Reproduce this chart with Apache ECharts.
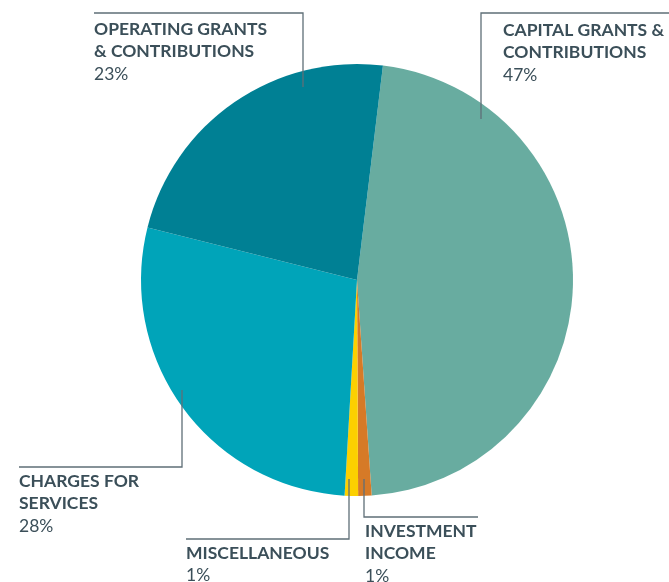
<!DOCTYPE html>
<html style="height: 100%">
<head>
<meta charset="utf-8">
<script type="text/javascript" src="https://cdn.jsdelivr.net/npm/echarts@6/dist/echarts.min.js"></script>
</head>
<body style="height: 100%; margin: 0; background: #fff">
<div id="container" style="width: 669px; height: 582px"></div>
<script type="text/javascript">
// slices, clockwise from just right of 12 o'clock
var NAMES = ['CAPITAL GRANTS &\nCONTRIBUTIONS', 'INVESTMENT\nINCOME', 'MISCELLANEOUS', 'CHARGES FOR\nSERVICES', 'OPERATING GRANTS\n& CONTRIBUTIONS'];
var VALUES = [47, 1, 1, 28, 23];
var COLORS = ['#68aca0', '#d67a27', '#fcd000', '#00a4b9', '#008094'];

// label anchor (left/top) and leader line for each slice
var LABEL_POS = [[503, 19], [365, 520], [186, 542], [19, 470], [94, 18]];
var LEADERS = [
    [[481, 119], [481, 13], [669, 13]],
    [[364, 479], [364, 517], [478, 517]],
    [[349, 479], [349, 539], [186, 539]],
    [[182, 390], [182, 467], [19, 467]],
    [[303, 87], [303, 13], [94, 13]]
];

var TXT = '#3b4f59';
var LINE = '#5f6f77';

var graphics = [];
for (var i = 0; i < NAMES.length; i++) {
    var lines = NAMES[i].split('\n');
    var s = '';
    for (var j = 0; j < lines.length; j++) {
        s += '{b|' + lines[j] + '}\n';
    }
    s += '{p|' + VALUES[i] + '%}';
    graphics.push({
        type: 'polyline',
        shape: {points: LEADERS[i]},
        style: {stroke: LINE, lineWidth: 1.3, fill: null},
        z: 10
    });
    graphics.push({
        type: 'text',
        x: LABEL_POS[i][0],
        y: LABEL_POS[i][1],
        style: {
            text: s,
            rich: {
                b: {fontFamily: 'Lato', fontWeight: 'bold', fontSize: 17.5, lineHeight: 22.5, fill: TXT},
                p: {fontFamily: 'Lato', fontWeight: 'normal', fontSize: 17.5, lineHeight: 22.5, fill: TXT}
            },
            verticalAlign: 'top',
            align: 'left'
        },
        z: 10
    });
}

var data = [];
for (var k = 0; k < VALUES.length; k++) {
    data.push({name: NAMES[k], value: VALUES[k], itemStyle: {color: COLORS[k]}});
}

var myChart = echarts.init(document.getElementById('container'));
var option = {
    backgroundColor: '#fff',
    animation: false,
    series: [{
        type: 'pie',
        center: [357, 280],
        radius: [0, 216],
        startAngle: 83.1,
        clockwise: true,
        label: {show: false},
        labelLine: {show: false},
        itemStyle: {borderWidth: 0},
        emphasis: {disabled: true},
        data: data
    }],
    graphic: graphics
};
myChart.setOption(option);
</script>
</body>
</html>
